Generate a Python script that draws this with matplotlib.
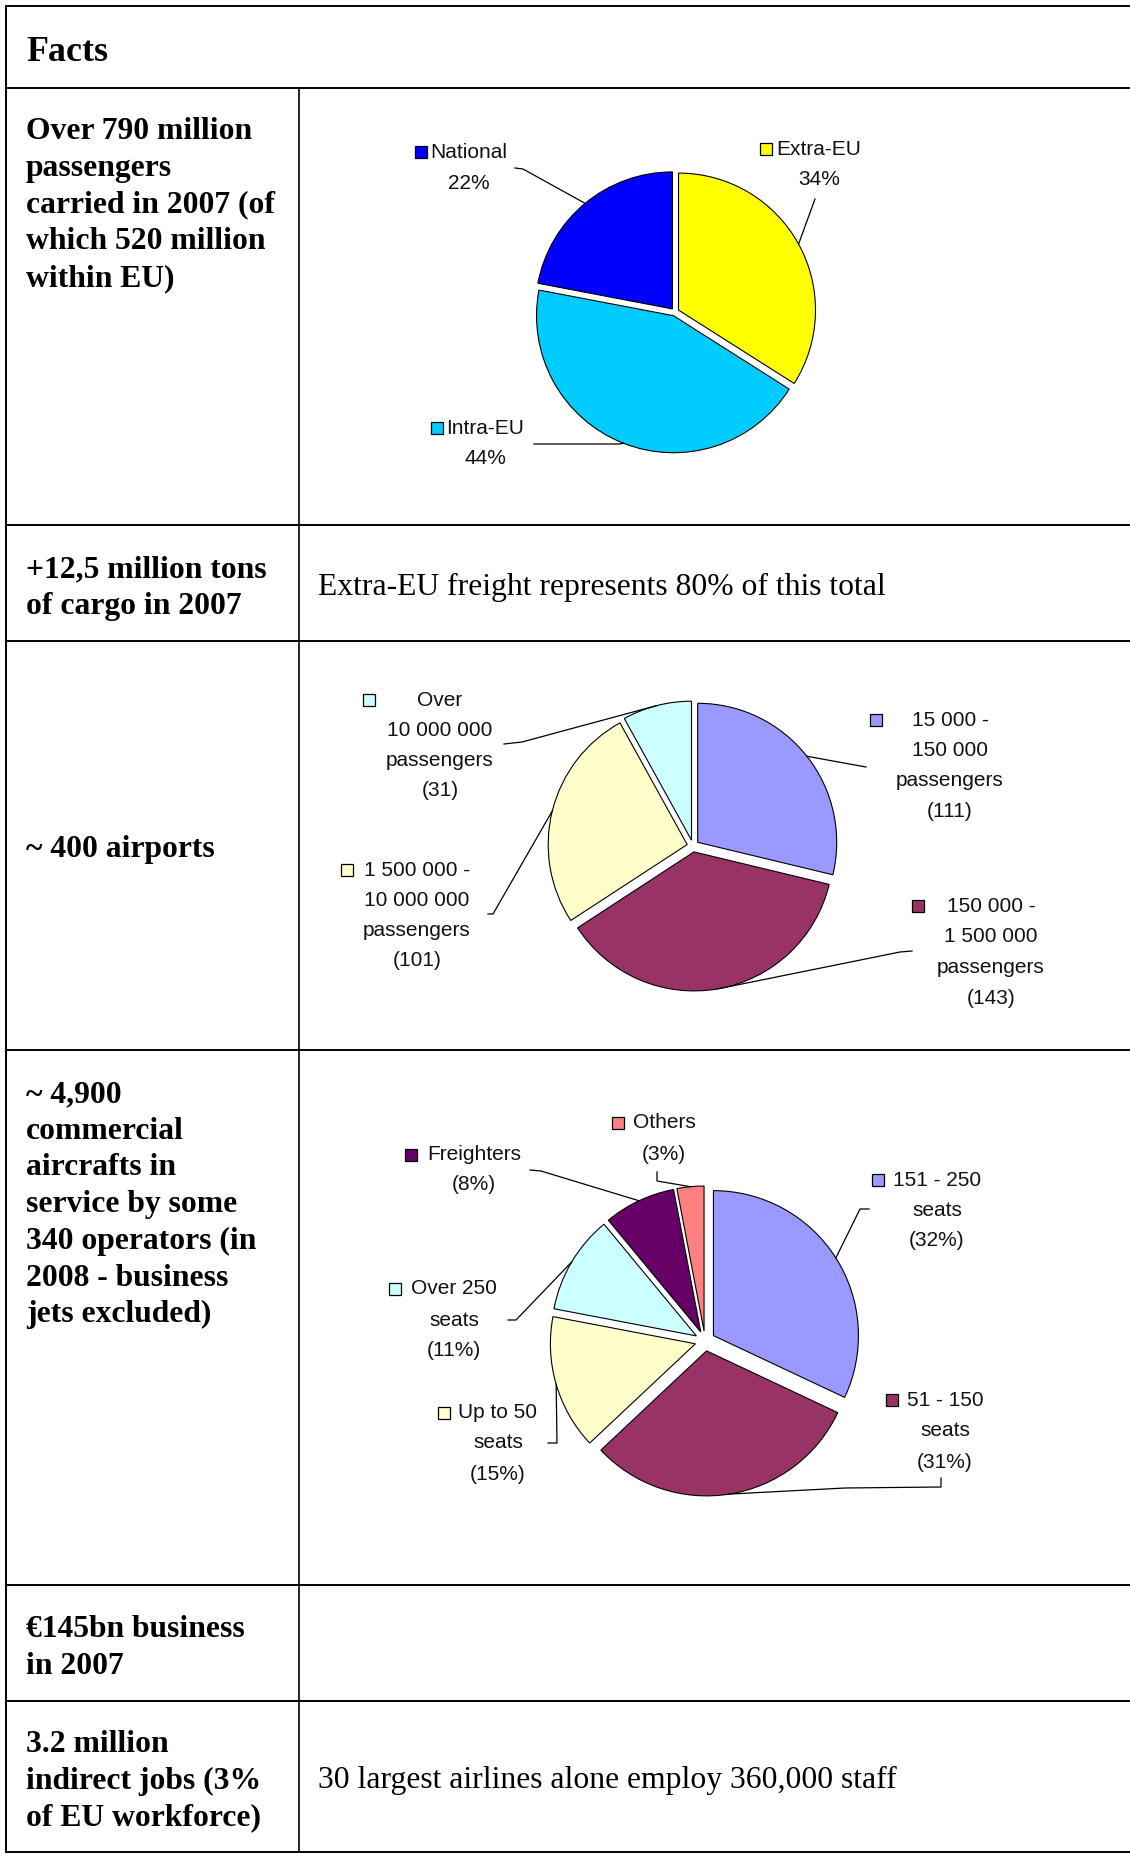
import math
import matplotlib
matplotlib.use("Agg")
import matplotlib.pyplot as plt
from matplotlib.patches import Rectangle

W, H = 1130, 1854

# --- chart data ---
pass_names = ["Extra-EU", "Intra-EU", "National"]
pass_share = [34, 44, 22]
pass_colors = ["#FFFF00", "#00CCFF", "#0000FF"]

airport_names = ["15 000 -\n150 000\npassengers",
                 "150 000 -\n1 500 000\npassengers",
                 "1 500 000 -\n10 000 000\npassengers",
                 "Over\n10 000 000\npassengers"]
airport_counts = [111, 143, 101, 31]
airport_colors = ["#9999FF", "#993366", "#FFFFCC", "#CCFFFF"]

fleet_names = ["151 - 250\nseats", "51 - 150\nseats", "Up to 50\nseats",
               "Over 250\nseats", "Freighters", "Others"]
fleet_share = [32, 31, 15, 11, 8, 3]
fleet_colors = ["#9999FF", "#993366", "#FFFFCC", "#CCFFFF", "#660066", "#FF8080"]

row_facts = ["Over 790 million\npassengers\ncarried in 2007 (of\nwhich 520 million\nwithin EU)",
             "+12,5 million tons\nof cargo in 2007",
             "~ 400 airports",
             "~ 4,900\ncommercial\naircrafts in\nservice by some\n340 operators (in\n2008 - business\njets excluded)",
             "\u20ac145bn business\nin 2007",
             "3.2 million\nindirect jobs (3%\nof EU workforce)"]
row_notes = ["", "Extra-EU freight represents 80% of this total", "", "", "",
             "30 largest airlines alone employ 360,000 staff"]

# --- layout (pixels from top-left) ---
row_lines = [6, 88, 525, 641, 1050, 1585, 1701, 1852]
col_x = 299
fact_baseline = [139, 577, 857, 1102, 1637, 1752]
note_baseline = [None, 595, None, None, None, 1788]
line_step = 36.7


def up(y):
    return H - y


fig = plt.figure(figsize=(W / 100, H / 100), dpi=100)
ax = fig.add_axes([0, 0, 1, 1])

serif = "Liberation Serif"
sans = "Liberation Sans"
fs_table = 22.8
fs_pie = 15

# table grid
for y in row_lines:
    ax.plot([6, W], [up(y), up(y)], color="black", lw=1.4, solid_capstyle="butt")
ax.plot([6, 6], [up(6), up(1852)], color="black", lw=1.4)
ax.plot([col_x, col_x], [up(88), up(1852)], color="black", lw=1.2)

ax.text(26, up(61), "Facts", fontsize=25.8, fontweight="bold", family=serif, va="baseline")
for txt, yb in zip(row_facts, fact_baseline):
    for i, line in enumerate(txt.split("\n")):
        ax.text(26, up(yb + i * line_step), line, fontsize=fs_table, fontweight="bold",
                family=serif, va="baseline")
for txt, yb in zip(row_notes, note_baseline):
    if txt:
        ax.text(318, up(yb), txt, fontsize=fs_table, family=serif, va="baseline")


def draw_pie(values, colors, names, fmt, center, radius, expl, labels):
    wedges, _ = ax.pie(values, colors=colors, startangle=90, counterclock=False,
                       radius=radius, center=(center[0], up(center[1])),
                       explode=[expl] * len(values),
                       wedgeprops=dict(edgecolor="black", linewidth=0.8))
    for w, v, name, col, lab in zip(wedges, values, names, colors, labels):
        cx, ys, sq_x, path = lab
        lines = name.split("\n") + [fmt.format(v)]
        for i, line in enumerate(lines):
            ax.text(cx, up(ys[i]), line, fontsize=fs_pie, family=sans, color="#111111",
                    ha="center", va="center")
        s = 12
        ax.add_patch(Rectangle((sq_x - s / 2, up(ys[0]) - s / 2), s, s, facecolor=col,
                               edgecolor="black", lw=0.9))
        # leader line ends on the wedge rim at its mid angle
        th = math.radians((w.theta1 + w.theta2) / 2)
        ex = w.center[0] + w.r * math.cos(th)
        ey = w.center[1] + w.r * math.sin(th)
        xs = [p[0] for p in path] + [ex]
        yv = [up(p[1]) for p in path] + [ey]
        ax.plot(xs, yv, color="black", lw=0.9)


# label layout: (text centre x, line centres y, legend square x, leader points)
pass_layout = [
    (819, [149, 179], 766, [(815, 199)]),
    (485, [428, 458], 437, [(534, 444), (620, 444)]),
    (469, [152, 183], 421, [(515, 168), (523, 169)]),
]
airport_layout = [
    (950, [720, 750, 780, 811], 876, [(866, 767)]),
    (991, [906, 936, 967, 998], 918, [(912, 951), (900, 952)]),
    (417, [870, 900, 930, 960], 347, [(488, 914), (493, 914)]),
    (440, [700, 730, 760, 790], 369, [(504, 744), (522, 742)]),
]
fleet_layout = [
    (937, [1180, 1210, 1240], 878, [(869, 1209), (860, 1209)]),
    (945, [1400, 1431, 1463], 892, [(941, 1478), (941, 1487), (845, 1488)]),
    (498, [1413, 1443, 1474], 444, [(548, 1443), (557, 1443)]),
    (454, [1289, 1320, 1350], 395, [(508, 1320), (516, 1320)]),
    (474, [1155, 1185], 411, [(530, 1170), (541, 1171)]),
    (664, [1123, 1154], 618, [(657, 1172), (657, 1181)]),
]

draw_pie(pass_share, pass_colors, pass_names, "{}%", (675, 312), 137, 4, pass_layout)
draw_pie(airport_counts, airport_colors, airport_names, "({})", (693, 846), 139, 6, airport_layout)
draw_pie(fleet_share, fleet_colors, fleet_names, "({}%)", (705, 1341), 145, 10, fleet_layout)

ax.set_xlim(0, W)
ax.set_ylim(0, H)
ax.set_aspect("auto")
ax.axis("off")

fig.savefig("out.png", dpi=100)
